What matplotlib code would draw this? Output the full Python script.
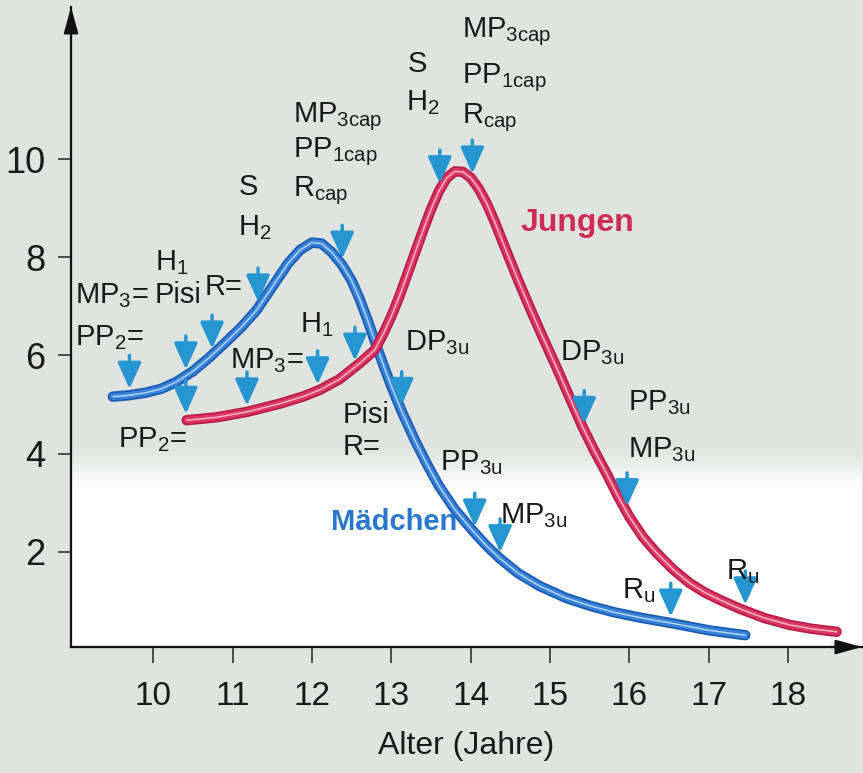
import numpy as np
import matplotlib.pyplot as plt

plt.rcParams['font.family'] = ['Liberation Sans', 'DejaVu Sans']
plt.rcParams['mathtext.fontset'] = 'custom'
plt.rcParams['mathtext.rm'] = 'Liberation Sans'
plt.rcParams['mathtext.default'] = 'regular'

# growth velocity (cm / year)
maedchen_age = [9.49, 9.70, 9.90, 10.10, 10.30, 10.50, 10.70, 10.90, 11.10, 11.30, 11.50,
                11.70, 11.85, 12.00, 12.12, 12.25, 12.38, 12.50, 12.60, 12.70, 12.80,
                12.90, 13.00, 13.13, 13.30, 13.45, 13.60, 13.80, 14.03, 14.20, 14.37,
                14.60, 14.87, 15.20, 15.50, 15.80, 16.13, 16.55, 17.00, 17.46]
maedchen_v = [5.16, 5.19, 5.24, 5.32, 5.47, 5.68, 5.95, 6.25, 6.56, 6.92, 7.40,
              7.88, 8.15, 8.30, 8.28, 8.10, 7.84, 7.52, 7.15, 6.72, 6.25,
              5.80, 5.37, 4.86, 4.26, 3.78, 3.34, 2.86, 2.42, 2.12, 1.86,
              1.56, 1.30, 1.06, 0.90, 0.77, 0.66, 0.54, 0.40, 0.30]

jungen_age = [10.42, 10.80, 11.18, 11.60, 11.90, 12.10, 12.35, 12.60, 12.79, 12.90, 13.00,
              13.10, 13.20, 13.30, 13.40, 13.50, 13.60, 13.70, 13.80, 13.90, 14.00,
              14.10, 14.20, 14.30, 14.45, 14.60, 14.75, 14.90, 15.08, 15.25, 15.41,
              15.56, 15.71, 15.85, 16.00, 16.17, 16.34, 16.55, 16.76, 16.95, 17.14,
              17.39, 17.70, 18.02, 18.30, 18.61]
jungen_v = [4.68, 4.74, 4.85, 5.02, 5.17, 5.30, 5.52, 5.84, 6.11, 6.45, 6.80,
            7.20, 7.65, 8.10, 8.55, 8.98, 9.35, 9.62, 9.75, 9.74, 9.62,
            9.40, 9.10, 8.73, 8.12, 7.52, 6.95, 6.40, 5.76, 5.13, 4.54,
            4.05, 3.60, 3.15, 2.71, 2.30, 1.98, 1.64, 1.36, 1.17, 1.02,
            0.84, 0.65, 0.51, 0.43, 0.37]

# ages of the marked events (arrows)
maedchen_events = [9.70, 10.41, 10.74, 11.32, 12.38, 13.13, 14.05, 14.37, 16.52]
jungen_events = [10.41, 11.18, 12.07, 12.54, 13.61, 14.02, 15.43, 15.97, 17.46]

x_ticks = [10, 11, 12, 13, 14, 15, 16, 17, 18]
y_ticks = [2, 4, 6, 8, 10]

# annotation texts (text, age, baseline)
labels = [
    ('MP$_{3}$=', 9.01, 7.07), ('PP$_{2}$=', 9.01, 6.21),
    ('H$_{1}$', 10.02, 7.74), ('Pisi', 10.02, 7.07), ('R=', 10.65, 7.23),
    ('S', 11.07, 9.27), ('H$_{2}$', 11.07, 8.45),
    ('MP$_{3cap}$', 11.76, 10.75), ('PP$_{1cap}$', 11.76, 10.04), ('R$_{cap}$', 11.76, 9.25),
    ('S', 13.21, 11.77), ('H$_{2}$', 13.19, 11.0),
    ('MP$_{3cap}$', 13.89, 12.48), ('PP$_{1cap}$', 13.89, 11.55), ('R$_{cap}$', 13.89, 10.73),
    ('MP$_{3}$=', 10.97, 5.74), ('H$_{1}$', 11.85, 6.48),
    ('Pisi', 12.38, 4.62), ('R=', 12.38, 3.97), ('PP$_{2}$=', 9.56, 4.13),
    ('DP$_{3u}$', 13.17, 6.11), ('PP$_{3u}$', 13.61, 3.67), ('MP$_{3u}$', 14.37, 2.59),
    ('R$_{u}$', 15.90, 1.06),
    ('DP$_{3u}$', 15.12, 5.91), ('PP$_{3u}$', 15.98, 4.89), ('MP$_{3u}$', 15.98, 3.93),
    ('R$_{u}$', 17.22, 1.45),
]

bg = '#dfe4e0'
fig = plt.figure(figsize=(8.63, 7.73), dpi=100, facecolor=bg)
ax = fig.add_axes([0.0823, 0.163, 0.9165, 0.828])
ax.set_facecolor(bg)
ax.set_xlim(8.963, 18.93)
ax.set_ylim(0.06, 13.1)

# white lower part of the plot area
grad = np.ones((200, 1, 4))
yy = np.linspace(0.06, 4.1, 200)
grad[:, 0, 3] = np.clip((4.1 - yy) / 0.8, 0, 1)
ax.imshow(grad, extent=[8.963, 18.93, 0.06, 4.1], origin='lower', aspect='auto', zorder=0)

# curves with light centre line
for age, v, cols in [(maedchen_age, maedchen_v, ('#1c5cb4', '#3683d8', '#c4dcf3')),
                     (jungen_age, jungen_v, ('#b81c48', '#dc3762', '#f6c4d1'))]:
    ax.plot(age, v, color=cols[0], lw=7.5, solid_capstyle='round', solid_joinstyle='round', zorder=3)
    ax.plot(age, v, color=cols[1], lw=4.8, solid_capstyle='round', solid_joinstyle='round', zorder=3)
    ax.plot(age, v, color=cols[2], lw=1.1, alpha=0.9, solid_capstyle='round',
            solid_joinstyle='round', zorder=3)

# event arrows
arrow_col = '#2596d1'
for events, age, v in [(maedchen_events, maedchen_age, maedchen_v),
                       (jungen_events, jungen_age, jungen_v)]:
    for e in events:
        tip = np.interp(e, age, v) + 0.13
        ax.annotate('', xy=(e, tip), xytext=(e, tip + 0.68),
                    arrowprops=dict(arrowstyle='-|>,head_length=0.8,head_width=0.36',
                                    color=arrow_col, lw=2.5, mutation_scale=20,
                                    shrinkA=0, shrinkB=0), zorder=4)

for s, x, y in labels:
    ax.text(x, y, s, ha='left', va='baseline', fontsize=21, color='#1a1a1a', zorder=5)

ax.text(15.34, 8.70, 'Jungen', ha='center', va='center', fontsize=23,
        fontweight='bold', color='#d02a55', zorder=5)
ax.text(13.04, 2.61, 'Mädchen', ha='center', va='center', fontsize=21,
        fontweight='bold', color='#2a78cc', zorder=5)

# axes with arrows
for side in ['top', 'right']:
    ax.spines[side].set_visible(False)
for side in ['left', 'bottom']:
    ax.spines[side].set_linewidth(1.6)
    ax.spines[side].set_color('#111111')
ax.annotate('', xy=(0, 1), xycoords='axes fraction', xytext=(0, 0.96),
            arrowprops=dict(arrowstyle='-|>,head_length=0.8,head_width=0.22',
                            color='#111111', lw=1.6, mutation_scale=20, shrinkA=0, shrinkB=0))
ax.annotate('', xy=(1, 0), xycoords='axes fraction', xytext=(0.96, 0),
            arrowprops=dict(arrowstyle='-|>,head_length=0.8,head_width=0.22',
                            color='#111111', lw=1.6, mutation_scale=20, shrinkA=0, shrinkB=0))

ax.set_xticks(x_ticks)
ax.set_yticks(y_ticks)
ax.tick_params(axis='y', direction='out', length=9.5, width=1.2, pad=9, colors='#333333',
               labelsize=26, labelcolor='#1a1a1a')
ax.tick_params(axis='x', direction='out', length=11.5, width=1.2, pad=13, colors='#333333',
               labelsize=24, labelcolor='#1a1a1a')

ax.set_xlabel('Alter (Jahre)', fontsize=23, color='#1a1a1a', labelpad=14)

plt.savefig('out.png', dpi=100, facecolor=bg)
